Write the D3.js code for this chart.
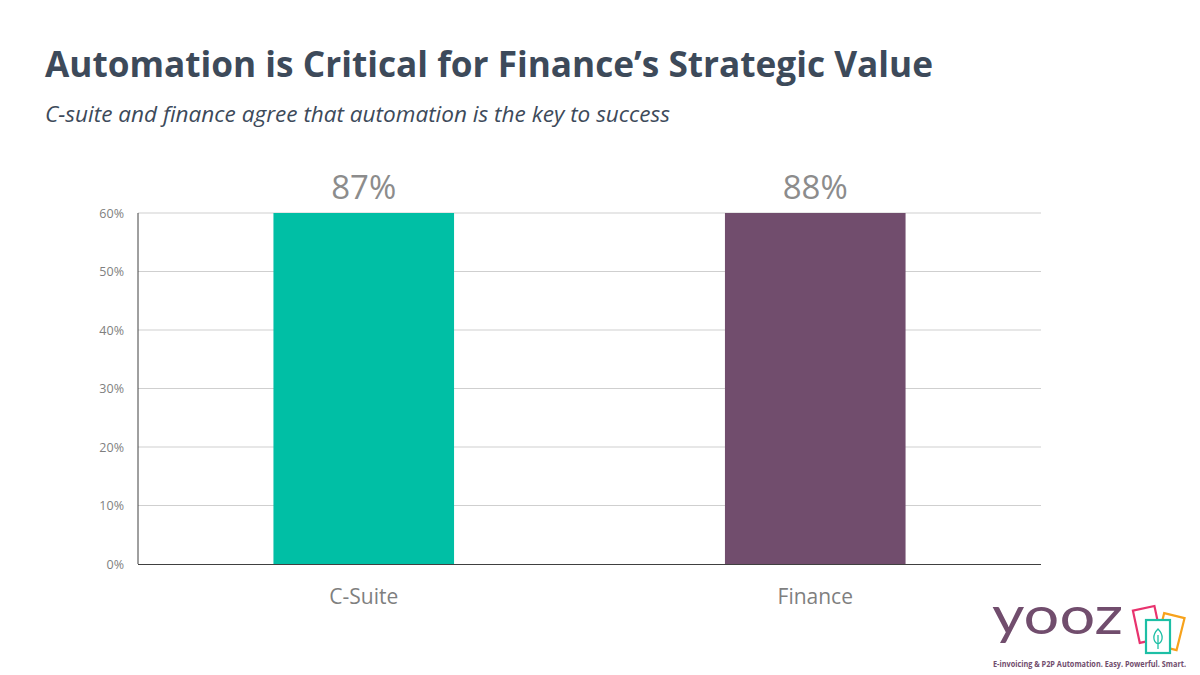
<!DOCTYPE html>
<html><head><meta charset="utf-8">
<script src="https://cdn.jsdelivr.net/npm/d3@7"></script>
<style>body{margin:0;background:#fff}svg{display:block}</style>
</head><body><svg id="c" width="1200" height="675"></svg>
<script>
const categories = ["C-Suite", "Finance"];
const values = [87, 88];
const colors = ["#00BFA5", "#714D6D"];
const yTicks = [0, 10, 20, 30, 40, 50, 60];

const svg = d3.select("#c");
const W = 1200, H = 675;
svg.append("rect").attr("width", W).attr("height", H).attr("fill", "#fff");

const font = "'Open Sans', 'Noto Sans', sans-serif";
const calibri = "'Open Sans', 'Noto Sans', sans-serif";

svg.append("text").attr("x", 45).attr("y", 77).attr("font-family", font)
  .attr("font-weight", 700).attr("font-size", 35).attr("fill", "#3D4A5A")
  .attr("textLength", 888).attr("lengthAdjust", "spacingAndGlyphs")
  .text("Automation is Critical for Finance’s Strategic Value");
svg.append("text").attr("x", 45).attr("y", 122).attr("font-family", font)
  .attr("font-style", "italic").attr("font-size", 21).attr("fill", "#3D4A5A")
  .attr("textLength", 625).attr("lengthAdjust", "spacingAndGlyphs")
  .text("C-suite and finance agree that automation is the key to success");

const m = {l: 138, r: 1041, t: 213, b: 564};
const x = d3.scaleBand().domain(categories).range([m.l, m.r]).paddingInner(0.6).paddingOuter(0.3);
const y = d3.scaleLinear().domain([0, 60]).range([m.b, m.t]);

const g = svg.append("g");
g.selectAll("line.grid").data(yTicks.filter(d => d > 0)).join("line")
  .attr("x1", m.l).attr("x2", m.r).attr("y1", d => y(d)).attr("y2", d => y(d))
  .attr("stroke", "#CFCFCF").attr("stroke-width", 1);

const yAxis = d3.axisLeft(y).tickValues(yTicks).tickFormat(d => d + "%").tickSize(0).tickPadding(14);
const ya = svg.append("g").attr("transform", `translate(${m.l},0)`).call(yAxis);
ya.select(".domain").remove();
ya.selectAll("text").attr("font-family", calibri).attr("font-size", 12.5).attr("fill", "#7F7F7F");

svg.append("clipPath").attr("id", "clip").append("rect")
  .attr("x", m.l).attr("y", m.t).attr("width", m.r - m.l).attr("height", m.b - m.t);
svg.append("g").attr("clip-path", "url(#clip)").selectAll("rect").data(categories).join("rect")
  .attr("x", d => x(d)).attr("width", x.bandwidth())
  .attr("y", (d, i) => y(values[i])).attr("height", (d, i) => y(0) - y(values[i]))
  .attr("fill", (d, i) => colors[i]);

svg.append("line").attr("x1", m.l).attr("x2", m.l).attr("y1", m.t).attr("y2", m.b)
  .attr("stroke", "#404040").attr("stroke-width", 1);
svg.append("line").attr("x1", m.l).attr("x2", m.r).attr("y1", m.b + 0.5).attr("y2", m.b + 0.5)
  .attr("stroke", "#404040").attr("stroke-width", 1);

svg.selectAll("text.val").data(categories).join("text").attr("class", "val")
  .attr("x", d => x(d) + x.bandwidth() / 2).attr("y", 199)
  .attr("text-anchor", "middle").attr("font-family", calibri).attr("font-size", 33)
  .attr("fill", "#8C8C8C").text((d, i) => values[i] + "%");

const xAxis = d3.axisBottom(x).tickSize(0).tickPadding(25);
const xa = svg.append("g").attr("transform", `translate(0,${m.b})`).call(xAxis);
xa.select(".domain").remove();
xa.selectAll("text").attr("font-family", calibri).attr("font-size", 21).attr("fill", "#7F7F7F");

// logo
const logo = svg.append("g");
logo.append("text").attr("x", 992).attr("y", 634).attr("font-family", "'Lato', 'Open Sans', sans-serif")
  .attr("font-weight", 400).attr("font-size", 52).attr("fill", "#714D6D")
  .attr("textLength", 131).attr("lengthAdjust", "spacingAndGlyphs").text("yooz");
logo.append("rect").attr("x", 1136).attr("y", 608).attr("width", 22).attr("height", 33)
  .attr("fill", "none").attr("stroke", "#E8336E").attr("stroke-width", 2.2)
  .attr("transform", "rotate(-12 1147 624)");
logo.append("rect").attr("x", 1160).attr("y", 615).attr("width", 21).attr("height", 33)
  .attr("fill", "none").attr("stroke", "#F7A21B").attr("stroke-width", 2.2)
  .attr("transform", "rotate(14 1170 631)");
logo.append("rect").attr("x", 1146).attr("y", 620).attr("width", 24).attr("height", 33)
  .attr("fill", "#fff").attr("stroke", "#1DBFA5").attr("stroke-width", 2.2);
logo.append("path").attr("d", "M1158 629 C1152 635 1153 642 1158 644 C1163 642 1164 635 1158 629 Z M1158 635 L1158 649")
  .attr("fill", "none").attr("stroke", "#1DBFA5").attr("stroke-width", 1.3);
logo.append("text").attr("x", 993).attr("y", 667).attr("font-family", font).attr("font-weight", 700)
  .attr("font-size", 8).attr("fill", "#714D6D").attr("textLength", 193).attr("lengthAdjust", "spacingAndGlyphs")
  .text("E-invoicing & P2P Automation.  Easy.  Powerful.  Smart.");
</script></body></html>
